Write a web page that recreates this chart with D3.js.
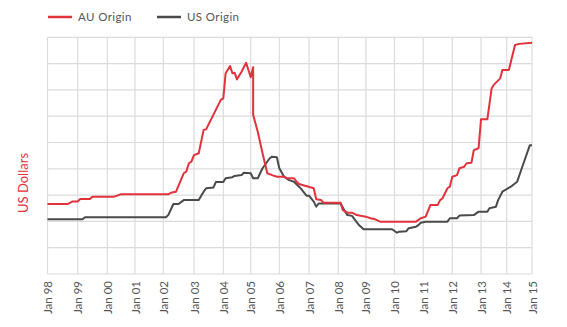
<!DOCTYPE html>
<html><head><meta charset="utf-8">
<script src="https://cdn.jsdelivr.net/npm/d3@7"></script>
<style>body{margin:0;background:#fff;} svg{display:block;}</style>
</head><body>
<svg id="chart" width="567" height="327"></svg>
<script>
// AU Origin series (month, value)
const auDates = ["1998-01","1998-09","1998-11","1999-01","1999-02","1999-06","1999-07","2000-04","2000-07","2002-03","2002-04","2002-06","2002-09","2002-10","2002-11","2002-12","2003-01","2003-03","2003-05","2003-06","2003-12","2004-01","2004-02","2004-04","2004-05","2004-06","2004-07","2004-09","2004-11","2005-01","2005-02","2005-02","2005-04","2005-06","2005-08","2005-10","2005-12","2006-03","2006-04","2006-07","2006-08","2006-09","2007-03","2007-04","2007-06","2007-07","2008-02","2008-03","2008-05","2008-07","2008-09","2009-01","2009-03","2009-05","2009-07","2010-10","2010-12","2011-02","2011-04","2011-07","2011-08","2011-09","2011-11","2011-12","2012-01","2012-03","2012-04","2012-06","2012-07","2012-09","2012-10","2012-12","2013-01","2013-04","2013-06","2013-07","2013-10","2013-11","2014-02","2014-05","2014-07","2015-01"];
const auValues = [2.66,2.66,2.76,2.76,2.85,2.85,2.94,2.94,3.03,3.03,3.09,3.13,3.83,3.89,4.21,4.27,4.52,4.59,5.48,5.50,6.62,6.68,7.63,7.91,7.63,7.65,7.40,7.69,8.03,7.48,7.86,6.05,5.41,4.59,3.83,3.76,3.70,3.70,3.64,3.64,3.51,3.42,3.26,2.84,2.81,2.71,2.71,2.43,2.33,2.33,2.24,2.18,2.12,2.08,1.99,1.99,2.12,2.18,2.62,2.62,2.81,2.88,3.26,3.32,3.70,3.76,4.02,4.08,4.21,4.23,4.71,4.78,5.88,5.88,7.06,7.19,7.44,7.76,7.76,8.71,8.75,8.79];
// US Origin series (month, value)
const usDates = ["1998-01","1999-03","1999-04","2002-02","2002-03","2002-05","2002-07","2002-09","2003-03","2003-05","2003-06","2003-09","2003-10","2004-01","2004-02","2004-05","2004-06","2004-09","2004-10","2005-01","2005-02","2005-04","2005-06","2005-09","2005-10","2005-12","2006-01","2006-03","2006-05","2006-07","2006-09","2006-10","2006-12","2007-01","2007-03","2007-04","2007-05","2008-02","2008-04","2008-05","2008-07","2008-10","2008-12","2009-12","2010-02","2010-03","2010-06","2010-07","2010-10","2010-11","2010-12","2011-02","2011-11","2011-12","2012-03","2012-04","2012-10","2012-12","2013-04","2013-05","2013-08","2013-09","2013-11","2014-03","2014-06","2014-09","2014-12","2015-01"];
const usValues = [2.08,2.08,2.16,2.16,2.24,2.66,2.66,2.81,2.81,3.13,3.26,3.29,3.50,3.50,3.64,3.68,3.73,3.76,3.85,3.83,3.64,3.64,4.02,4.40,4.46,4.44,4.02,3.70,3.57,3.51,3.32,3.22,2.98,2.98,2.75,2.56,2.68,2.68,2.37,2.24,2.21,1.86,1.70,1.70,1.57,1.61,1.63,1.74,1.80,1.86,1.95,1.99,1.99,2.12,2.12,2.22,2.24,2.37,2.37,2.50,2.56,2.81,3.13,3.32,3.51,4.21,4.90,4.90];
const tickLabels = ["Jan 98","Jan 99","Jan 00","Jan 01","Jan 02","Jan 03","Jan 04","Jan 05","Jan 06","Jan 07","Jan 08","Jan 09","Jan 10","Jan 11","Jan 12","Jan 13","Jan 14","Jan 15"];
const tickYears = [1998,1999,2000,2001,2002,2003,2004,2005,2006,2007,2008,2009,2010,2011,2012,2013,2014,2015];
const yGridValues = [0,1,2,3,4,5,6,7,8,9];
const seriesNames = ["AU Origin","US Origin"];

// layout: pixel positions of the yearly gridlines in the original (slightly uneven)
const tickPx = [47.5,77.7,107.3,135,163.3,194,223.3,250.7,279.3,309,338.3,365.9,394.5,423.2,452.3,481,506.7,532];

(function(){
const RED = "#e2323c", GRAY = "#4a4a4a";
const FONT = "Lato, 'Open Sans', sans-serif";
const svg = d3.select("#chart");
const plotTop = 37.3, plotBottom = 274;
const parse = d3.timeParse("%Y-%m");
const tickDates = tickYears.map(d=>new Date(d,0,1));
const x = d3.scaleTime().domain(tickDates).range(tickPx);
const y = d3.scaleLinear().domain([0,9]).range([plotBottom, plotTop]);
const x0 = tickPx[0], x1 = tickPx[tickPx.length-1];

// grid
const g = svg.append("g");
g.selectAll("line.h").data(yGridValues).join("line")
  .attr("x1", x0).attr("x2", x1)
  .attr("y1", d=>y(d)).attr("y2", d=>y(d))
  .attr("stroke","#dcdcdc").attr("stroke-width",1.2);
g.selectAll("line.v").data(tickDates).join("line")
  .attr("x1", d=>x(d)).attr("x2", d=>x(d))
  .attr("y1", plotTop).attr("y2", plotBottom)
  .attr("stroke","#dcdcdc").attr("stroke-width",1.2);

// x axis labels
const xAxis = d3.axisBottom(x)
  .tickValues(tickDates)
  .tickFormat((d,i)=>tickLabels[i]).tickSize(0);
const ax = svg.append("g").attr("transform",`translate(0,${plotBottom})`).call(xAxis);
ax.select(".domain").remove();
ax.selectAll("text")
  .attr("transform","rotate(-90)")
  .attr("x",-7).attr("y",0).attr("dy","0.35em")
  .style("text-anchor","end")
  .attr("fill","#555")
  .style("font-family",FONT)
  .style("font-size","11.5px");

// lines
const line = d3.line().x(d=>x(d[0])).y(d=>y(d[1]));
const us = usDates.map((d,i)=>[parse(d), usValues[i]]);
const au = auDates.map((d,i)=>[parse(d), auValues[i]]);
svg.append("path").datum(us).attr("d",line).attr("fill","none")
  .attr("stroke",GRAY).attr("stroke-width",2).attr("stroke-linejoin","round");
svg.append("path").datum(au).attr("d",line).attr("fill","none")
  .attr("stroke",RED).attr("stroke-width",2).attr("stroke-linejoin","round");

// y title
svg.append("text").attr("transform","translate(28,183) rotate(-90)")
  .attr("text-anchor","middle").attr("fill",RED)
  .style("font-family",FONT).style("font-size","13px")
  .text("US Dollars");

// legend
const legend = [{name:seriesNames[0], c:RED, x:48},{name:seriesNames[1], c:GRAY, x:157}];
const lg = svg.selectAll("g.lg").data(legend).join("g").attr("transform",d=>`translate(${d.x},17)`);
lg.append("line").attr("x1",0).attr("x2",24).attr("y1",0).attr("y2",0)
  .attr("stroke",d=>d.c).attr("stroke-width",2.5);
lg.append("text").attr("x",30).attr("y",0).attr("dy","0.35em").attr("fill","#555")
  .style("font-family",FONT).style("font-size","11.5px")
  .style("letter-spacing","0.4px")
  .text(d=>d.name);
})();
</script>
</body></html>
